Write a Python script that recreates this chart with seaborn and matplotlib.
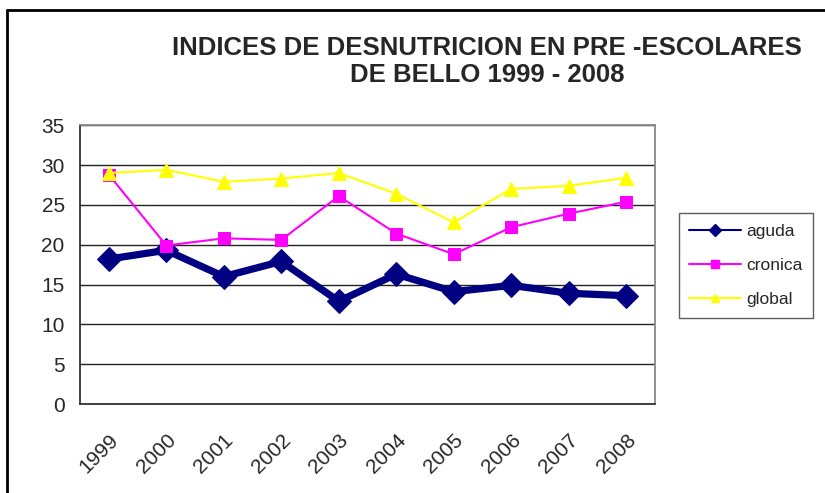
import pandas as pd
import numpy as np
import seaborn as sns
import matplotlib.pyplot as plt
from matplotlib.lines import Line2D
from matplotlib.ticker import FixedLocator, NullFormatter

# data
years = ['1999', '2000', '2001', '2002', '2003', '2004', '2005', '2006', '2007', '2008']
aguda = [18.2, 19.3, 16.0, 17.9, 12.9, 16.3, 14.1, 14.9, 13.9, 13.6]
cronica = [28.8, 19.9, 20.8, 20.6, 26.1, 21.4, 18.8, 22.2, 23.9, 25.4]
global_ = [29.0, 29.4, 27.9, 28.3, 29.0, 26.4, 22.8, 27.0, 27.4, 28.4]

df = pd.DataFrame({'year': years, 'aguda': aguda, 'cronica': cronica, 'global': global_})

sns.set_style('white')
plt.rcParams['font.family'] = ['Liberation Sans', 'DejaVu Sans']

fig = plt.figure(figsize=(8.25, 4.93), dpi=100)
ax = fig.add_axes([0.097, 0.1805, 0.697, 0.5655])

#series styles
styles = {'aguda': dict(color='#000080', lw=5.2, marker='D', ms=12.5),
          'cronica': dict(color='#FF00FF', lw=1.5, marker='s', ms=9),
          'global': dict(color='#FFFF00', lw=1.5, marker='^', ms=10)}

for name in ['aguda', 'cronica', 'global']:
    st = styles[name]
    sns.lineplot(x='year', y=name, data=df, ax=ax, color=st['color'], linewidth=st['lw'],
                 marker=st['marker'], markersize=st['ms'], markeredgecolor=st['color'],
                 label=name, legend=False, sort=False)

ax.set_ylim(0, 35)
ax.set_xlim(-0.5, 9.5)
ax.set_yticks(np.arange(0, 36, 5))
ax.yaxis.grid(True, color='#222222', lw=1)
ax.set_axisbelow(True)

#ticks between the categories, labels at centers
ax.xaxis.set_major_locator(FixedLocator(np.arange(-0.5, 10, 1)))
ax.xaxis.set_major_formatter(NullFormatter())
ax.xaxis.set_minor_locator(FixedLocator(np.arange(0, 10)))
ax.set_xticklabels(years, minor=True)
ax.tick_params(axis='x', which='minor', length=0, labelsize=15, rotation=45, pad=19)
ax.tick_params(axis='x', which='major', length=6, width=1, color='#333333', direction='out')
ax.tick_params(axis='y', length=6, width=1, color='#333333', direction='out', labelsize=15, pad=5)
for lab in ax.get_xticklabels(minor=True):
    lab.set_ha('right')
    lab.set_rotation_mode('anchor')
ax.set_xlabel('')
ax.set_ylabel('')

for pos in ['left', 'bottom']:
    ax.spines[pos].set_color('#333333')
    ax.spines[pos].set_linewidth(1.3)
for pos in ['right', 'top']:
    ax.spines[pos].set_color('#888888')
    ax.spines[pos].set_linewidth(1.3)

handles = [Line2D([], [], color=styles[n]['color'], lw=1.5, marker=styles[n]['marker'],
                  ms=6, markeredgecolor=styles[n]['color']) for n in ['aguda', 'cronica', 'global']]
leg = fig.legend(handles, ['aguda', 'cronica', 'global'], loc='upper left',
                 bbox_to_anchor=(0.812, 0.585), frameon=True, fancybox=False,
                 edgecolor='#333333', fontsize=12.5, handlelength=3.0,
                 labelspacing=1.1, borderpad=0.6, handletextpad=0.3)
leg.get_frame().set_linewidth(1.0)

fig.text(0.59, 0.876, 'INDICES DE DESNUTRICION EN PRE -ESCOLARES\nDE BELLO 1999 - 2008',
         ha='center', va='center', fontsize=18.5, fontweight='bold', linespacing=1.17)

#outer chart border (cut at right and bottom)
fig.add_artist(Line2D([0.009, 0.009], [0, 0.98], color='black', lw=2, transform=fig.transFigure))
fig.add_artist(Line2D([0.009, 1.0], [0.98, 0.98], color='black', lw=2, transform=fig.transFigure))

plt.savefig('out.png', dpi=100)
